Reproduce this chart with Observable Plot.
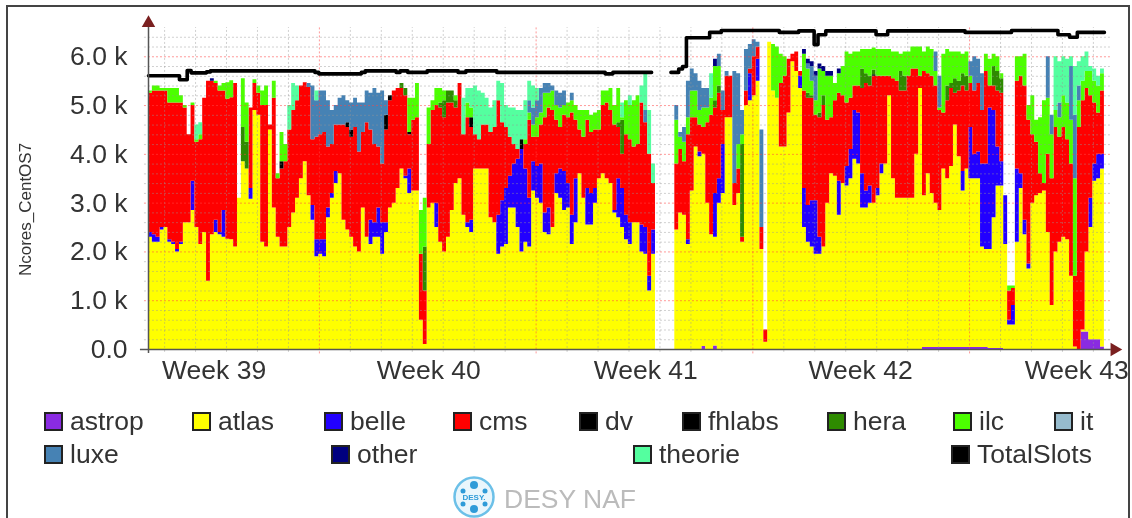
<!DOCTYPE html>
<html><head><meta charset="utf-8">
<script src="https://cdn.jsdelivr.net/npm/d3@7"></script>
<script src="https://cdn.jsdelivr.net/npm/@observablehq/plot@0.6"></script>
<style>
html,body{margin:0;padding:0;background:#fff;overflow:hidden}
#page{position:relative;width:1132px;height:518px;overflow:hidden;font-family:"Liberation Sans",sans-serif;color:#333;filter:blur(.7px)}
#frame{position:absolute;left:6px;top:5px;width:1120px;height:530px;border:2px solid #444;box-sizing:content-box}
#chart{position:absolute;left:0;top:0}
.sw{position:absolute;width:15px;height:15px;border:2px solid #222}
.lb{position:absolute;font-size:26.5px;line-height:30px;white-space:nowrap;color:#333}
</style></head><body>
<div id="page"><div id="frame"></div><div id="chart"></div></div>
<script>
// values in thousands of cores, one sample every 3 hours (10 per line)
const atlasTop = [
2.3,2.2,2.2,2.45,2.5,2.2,2.15,2.0,2.15,2.6,
2.6,2.85,2.5,2.15,2.4,1.4,2.35,2.4,2.35,2.3,
2.26,2.25,2.1,3.1,3.85,3.7,3.08,4.9,4.8,2.2,
2.1,4.5,2.9,2.3,2.1,2.1,2.5,2.8,3.1,3.5,
3.85,3.15,2.65,1.9,1.95,1.9,2.7,3.1,3.4,3.6,
2.65,2.45,2.3,2.1,2.0,2.9,2.3,2.15,2.3,2.3,
1.95,2.4,2.9,3.0,3.3,3.7,3.5,3.2,3.25,3.25,
.6,.1,2.9,3.0,2.5,2.2,2.0,2.3,2.85,3.4,
3.5,2.75,2.5,2.4,3.7,3.7,3.7,3.7,2.7,2.6,
1.95,2.1,2.15,2.9,2.9,2.5,2.0,2.2,2.1,3.25,
3.1,3.0,2.4,2.35,2.5,3.2,3.1,2.85,2.9,2.15,
2.6,3.6,3.1,2.55,2.55,3.0,3.5,3.6,3.5,3.4,
2.8,2.7,2.5,2.25,2.15,2.6,2.6,2.0,1.95,1.2,
1.95,0,0,0,0,0,2.45,2.8,2.75,2.15,
3.25,4.15,3.95,4.0,3.0,2.35,2.3,3.0,3.2,4.75,
4.75,2.95,3.2,2.2,5.0,5.1,5.2,5.5,2.05,.15,
6.3,5.3,5.15,4.15,4.15,4.85,5.9,5.7,5.35,2.5,
2.2,2.1,1.95,1.95,2.1,3.0,3.6,3.55,2.75,3.4,
3.35,3.5,3.9,3.8,2.9,2.9,3.0,3.0,3.15,3.6,
3.8,5.2,3.5,3.1,3.1,3.1,3.1,3.1,4.0,5.35,
3.15,3.6,3.2,3.0,2.85,3.7,3.5,3.75,4.6,3.95,
3.25,3.7,3.5,3.5,3.5,2.1,2.05,2.05,2.7,3.35,
3.35,2.15,.5,.5,2.2,3.3,2.35,1.65,3.0,3.15,
3.2,3.25,2.4,.9,2.0,2.2,2.3,2.25,1.5,.05,
0,.4,2.0,2.5,3.45,3.5,3.7,3.25];
const belle = [
.1,.15,.1,.05,0,.05,.05,.05,.05,0,
0,.6,0,0,0,0,0,.25,.05,.55,
0,0,0,0,0,0,.22,0,0,0,
0,0,0,0,0,0,0,0,0,0,
0,0,.3,.35,.3,.35,.2,.1,.25,0,
0,0,0,0,0,0,0,.5,.3,.6,
.65,.2,0,0,0,0,.05,.5,0,0,
0,0,0,0,.5,0,0,0,0,0,
0,0,.1,.25,0,0,0,0,0,0,
.8,.95,1.15,.65,.9,1.4,2.1,1.5,1.0,.6,
.65,.8,.4,.55,0,.4,.6,.8,.5,.6,
.9,0,0,.75,.65,.3,0,0,0,0,
.05,.8,.8,.5,.45,0,0,.55,.55,.3,
.5,0,0,0,0,0,0,0,0,.1,
0,0,.1,0,0,0,.9,.5,1.0,0,
0,0,0,0,0,.55,0,.45,0,0,
0,0,0,0,0,0,0,0,.25,.8,
.75,.95,1.1,.35,0,0,0,0,.7,0,
.4,.6,1.0,1.05,.7,.35,.35,0,.15,.2,
0,0,0,0,0,0,0,0,0,0,
0,0,0,0,0,0,0,0,0,0,
.4,0,1.05,.5,.55,1.7,1.75,2.9,2.2,.8,
.5,1.0,.1,.4,1.5,.3,.3,.1,0,0,
0,0,0,0,0,0,0,0,0,0,
0,0,0,.6,.35,.5,.3,.8];
const cmsTop = [
5.25,5.3,5.3,5.3,5.3,5.05,5.05,5.05,5.05,4.95,
4.4,5.0,4.25,4.3,5.15,5.5,5.5,5.45,5.3,5.3,
5.13,5.16,5.45,3.1,3.85,3.7,4.95,5.45,5.25,5.0,
5.0,4.6,5.15,3.5,3.7,3.85,4.5,4.9,5.1,5.4,
5.47,5.37,4.3,4.35,4.4,4.45,4.15,4.2,4.6,4.6,
4.6,4.55,4.35,4.55,4.05,4.45,4.65,4.5,4.2,4.15,
3.8,4.5,5.1,5.3,5.35,5.35,5.2,4.4,4.7,4.75,
1.95,1.2,4.2,4.9,5.0,4.95,4.75,5.05,5.05,4.95,
5.45,4.4,4.75,4.55,4.4,4.3,4.6,4.6,4.45,4.55,
5.1,4.65,4.55,4.35,4.2,4.1,4.05,4.2,4.7,4.35,
4.35,4.6,4.75,4.95,4.9,4.7,4.55,4.8,4.75,4.85,
4.7,4.5,4.35,4.7,4.45,4.5,4.5,5.0,5.05,4.9,
4.6,4.55,4.0,4.4,4.3,4.15,4.2,5.05,4.65,4.0,
3.4,0,0,0,0,0,3.8,4.1,3.85,4.4,
4.75,4.75,4.6,4.55,4.65,4.8,4.95,5.25,4.9,5.6,
5.6,3.4,3.7,2.3,5.3,5.75,6.0,6.2,2.5,.4,
6.3,5.3,5.15,5.45,5.6,5.95,6.05,6.1,5.7,5.3,
5.15,5.15,4.8,4.75,5.0,4.7,4.75,5.1,5.25,5.2,
5.05,5.15,5.4,5.4,5.35,5.45,5.4,5.6,5.6,5.6,
5.6,5.6,5.55,5.5,5.3,5.3,5.6,5.75,5.75,5.6,
5.7,5.65,5.6,5.4,4.9,4.85,5.1,5.35,5.25,5.3,
5.4,5.3,5.45,5.3,5.45,4.9,5.7,5.4,5.4,5.3,
5.25,3.15,1.2,1.25,5.5,5.6,5.4,4.7,4.4,4.25,
3.6,3.4,4.0,3.5,4.55,4.35,4.55,4.3,3.8,1.5,
4.55,5.1,5.35,5.2,5.05,4.85,5.3,5.35];
const hera = [
0,0,0,0,0,0,0,0,0,0,
0,0,0,0,0,0,0,0,0,0,
0,0,0,0,.7,.55,0,0,0,0,
0,0,0,0,0,0,0,0,0,0,
0,0,0,0,0,0,0,0,0,0,
0,0,0,0,0,0,0,0,0,0,
0,0,0,0,0,.1,.15,0,0,0,
0,.9,0,0,0,.1,.35,.25,.25,.15,
0,0,0,0,0,0,0,0,0,0,
0,0,0,0,0,0,0,0,0,0,
0,0,0,0,0,0,0,0,0,0,
0,0,0,0,0,0,0,0,0,0,
0,.1,.7,0,0,0,0,0,0,0,
0,0,0,0,0,0,0,0,0,0,
0,0,0,0,0,0,.15,.15,0,0,
0,0,0,1.9,0,0,0,0,0,0,
0,0,0,0,0,0,0,0,0,0,
.1,.05,0,.1,.2,0,0,0,0,0,
0,0,0,0,.4,.2,.2,.1,0,0,
0,0,0,0,.4,.3,0,0,0,0,
0,0,0,0,0,0,.3,.1,.3,.2,
.25,.3,0,0,0,0,0,0,.4,.4,
.3,0,0,0,0,0,0,0,0,0,
0,0,0,0,0,0,0,0,0,0,
0,0,0,0,0,0,0,0];
const dv = [
0,0,0,0,0,0,0,0,0,0,
0,0,0,0,0,0,0,0,0,0,
0,0,0,0,0,0,0,0,0,0,
0,0,0,0,.15,0,0,0,0,0,
0,0,0,0,0,0,0,0,0,0,
0,.1,.15,0,0,0,0,0,0,0,
0,.3,.1,0,0,0,0,.05,0,0,
0,0,0,0,0,0,0,0,0,0,
0,0,0,.2,0,0,0,0,0,0,
0,0,0,0,0,0,.2,0,0,0,
0,0,0,0,0,0,0,0,0,0,
0,0,0,0,0,0,0,0,0,0,
0,0,0,0,0,0,0,0,0,0,
0,0,0,0,0,0,0,0,0,0,
0,0,0,0,0,0,0,0,0,0,
0,0,0,0,0,0,0,0,0,0,
0,0,0,0,0,0,0,0,0,0,
0,0,0,0,0,0,0,0,0,0,
0,0,0,0,0,0,0,.03,0,0,
0,0,0,0,0,0,0,0,0,0,
0,0,0,0,0,0,0,0,0,0,
0,0,0,0,0,0,0,0,0,0,
0,0,0,0,0,0,0,0,0,0,
0,0,0,0,0,0,0,0,0,0,
0,0,0,0,0,0,0,0];
const ilc = [
.05,.1,.1,.05,.05,.3,.3,.3,.15,.05,
0,.05,.05,.1,0,0,0,.05,.1,.15,
.34,.35,0,0,1.0,.8,0,.08,.15,.3,
.4,0,.35,.1,.6,.35,0,0,0,0,
0,0,0,0,0,0,0,0,0,0,
0,0,0,0,0,0,0,0,0,0,
0,0,0,0,0,0,0,.7,.45,.7,
.9,1.0,.75,.2,.35,.3,.2,0,0,.1,
0,0,.3,.2,0,0,0,0,0,0,
0,0,0,0,0,0,0,.1,.15,.25,
.4,.25,.5,.3,.4,.3,.4,.2,.3,.25,
.3,.4,.55,.2,.35,.35,.4,.3,.25,.45,
.4,.7,.05,.7,.7,.95,1.0,0,0,0,
0,0,0,0,0,0,.9,.25,.4,.35,
.55,.55,.3,.4,.3,.35,.7,.4,0,0,
0,0,.5,.2,0,0,0,0,0,0,
0,.95,1.05,.6,.4,0,0,0,0,.75,
.5,.3,.3,.9,.5,.9,.85,.35,.4,.6,
1.05,.9,.7,.7,.4,.5,.55,.45,.55,.55,
.55,.55,.55,.6,.35,.5,.5,.45,.45,.6,
.4,.55,.55,.3,.05,1.2,.75,.65,.55,.6,
.4,.5,.15,0,0,0,.35,.55,.25,.3,
.1,0,.1,.05,.5,.4,.65,.3,.8,.45,
1.15,1.7,1.15,.9,.35,.4,.65,.75,.9,2.0,
.55,.4,.35,.5,.45,.55,.35,.7];
const luxe = [
0,0,0,0,0,0,0,0,0,0,
0,0,0,0,0,0,0,0,0,0,
0,0,0,0,0,0,0,0,0,0,
0,0,0,0,0,0,0,0,0,0,
0,.08,1.1,.75,.9,.85,.95,.7,.4,.55,
.6,.45,.55,.6,1.0,.6,.65,.75,1.15,1.1,
1.5,.3,0,0,0,0,0,0,0,0,
0,0,0,0,0,0,0,0,0,0,
0,0,0,0,0,0,0,0,0,0,
0,0,0,0,0,0,0,0,.25,.35,
.35,.5,.2,.2,.1,.3,.3,.3,0,.15,
0,0,0,0,0,0,0,0,0,0,
0,0,0,0,0,0,0,0,.25,0,
0,0,0,0,0,0,.3,.1,.3,.75,
.45,.35,.6,.4,.4,0,0,.25,.4,.1,
0,2.3,1.45,.5,.85,.5,.35,.1,2.0,0,
0,0,0,0,0,0,0,0,0,0,
.1,.3,.5,0,0,0,0,0,0,0,
0,0,0,0,0,0,0,0,0,0,
0,0,0,0,0,0,0,0,0,0,
0,0,0,.4,.65,0,0,0,0,0,
0,0,.3,.7,.5,.75,0,0,0,0,
0,0,0,0,0,0,0,0,0,0,
0,0,.85,.4,0,.3,0,0,1.1,1.3,
.3,0,0,0,0,0,0,0];
const other = [
0,0,0,0,0,0,0,0,0,0,
0,0,0,0,0,0,.05,0,0,0,
0,0,0,0,0,0,0,0,0,0,
0,0,0,0,0,0,0,0,0,0,
0,0,0,0,0,0,0,0,0,0,
0,0,0,0,0,0,0,0,0,0,
0,0,0,0,0,0,0,0,0,0,
0,0,0,0,0,0,0,0,0,0,
0,0,0,0,0,0,0,0,0,0,
0,0,0,0,0,0,0,0,0,0,
0,0,0,0,0,0,0,0,0,0,
0,0,0,0,0,0,0,0,0,0,
0,0,0,0,0,0,0,0,0,0,
0,0,0,0,0,0,0,0,0,0,
0,0,0,0,0,0,.15,0,0,0,
0,0,0,0,0,0,0,0,0,0,
0,0,0,0,0,0,0,0,0,.1,
.1,.1,.1,.1,.1,.1,.1,0,.1,0,
0,0,0,0,0,0,0,0,0,0,
0,0,0,0,0,0,0,0,0,0,
0,0,0,0,0,0,0,0,0,0,
0,0,0,0,0,0,0,0,0,0,
0,0,0,0,0,0,0,0,0,0,
0,0,0,0,0,0,0,0,0,0,
0,0,0,0,0,0,0,0];
const theorie = [
0,0,0,0,0,0,0,0,0,0,
0,0,.3,.25,0,0,0,0,0,0,
0,0,0,0,0,0,0,0,0,0,
0,0,0,0,0,0,.5,.55,.3,0,
0,0,0,.2,0,0,0,0,0,0,
0,0,0,0,0,0,0,0,0,0,
0,0,0,0,0,0,0,0,0,0,
0,0,0,0,0,0,0,0,0,0,
0,.75,.3,.4,1.0,1.0,.65,.55,.5,.55,
.4,.8,.45,.6,.75,.8,.6,.8,.4,.45,
.25,0,0,0,0,0,0,0,0,0,
0,0,0,0,0,0,0,0,0,0,
0,0,.3,0,.2,0,0,.35,.75,.9,
.4,0,0,0,0,0,0,0,0,0,
0,0,0,0,0,.5,0,0,0,0,
0,0,0,0,0,0,0,0,0,0,
0,0,0,0,0,0,0,0,0,0,
0,0,0,0,0,0,0,0,0,0,
0,0,0,0,0,0,0,0,0,0,
0,0,0,0,0,0,0,0,0,0,
0,0,0,0,0,0,0,0,0,0,
0,0,0,0,0,0,0,0,0,0,
0,0,0,0,0,0,0,0,0,0,
0,0,0,0,1.1,.85,.8,.9,.2,1.0,
.5,.5,.4,.1,.25,.2,.1,0];
const astrop = [
0,0,0,0,0,0,0,0,0,0,
0,0,0,0,0,0,0,0,0,0,
0,0,0,0,0,0,0,0,0,0,
0,0,0,0,0,0,0,0,0,0,
0,0,0,0,0,0,0,0,0,0,
0,0,0,0,0,0,0,0,0,0,
0,0,0,0,0,0,0,0,0,0,
0,0,0,0,0,0,0,0,0,0,
0,0,0,0,0,0,0,0,0,0,
0,0,0,0,0,0,0,0,0,0,
0,0,0,0,0,0,0,0,0,0,
0,0,0,0,0,0,0,0,0,0,
0,0,0,0,0,0,0,0,0,0,
0,0,0,0,0,0,0,0,0,0,
0,0,0,.06,0,0,.07,0,0,0,
0,0,0,0,0,0,0,0,0,0,
0,0,0,0,0,0,0,0,0,0,
0,0,0,0,0,0,0,0,0,0,
0,0,0,0,0,0,0,0,0,0,
0,0,0,0,0,0,0,0,0,0,
.04,.04,.04,.04,.04,.04,.04,.04,.04,.04,
.04,.04,.04,.04,.04,.04,.04,.02,.02,.02,
.02,0,0,0,0,0,0,0,0,0,
0,0,0,0,0,0,0,0,0,0,
0,.36,.36,.2,.2,.2,.05,0];
const totalSlots = [
5.61,5.61,5.61,5.61,5.61,5.61,5.61,5.61,5.53,5.53,
5.72,5.67,5.67,5.67,5.67,5.69,5.71,5.71,5.71,5.71,
5.71,5.71,5.71,5.71,5.71,5.71,5.71,5.71,5.71,5.71,
5.71,5.71,5.71,5.71,5.71,5.71,5.71,5.71,5.71,5.71,
5.71,5.71,5.71,5.68,5.65,5.65,5.65,5.65,5.65,5.65,
5.65,5.65,5.65,5.65,5.65,5.68,5.71,5.71,5.71,5.71,
5.71,5.71,5.71,5.71,5.68,5.71,5.71,5.68,5.68,5.68,
5.68,5.68,5.71,5.71,5.71,5.71,5.71,5.71,5.71,5.71,
5.68,5.68,5.71,5.71,5.71,5.71,5.71,5.71,5.71,5.71,
5.68,5.68,5.68,5.68,5.68,5.68,5.68,5.68,5.68,5.68,
5.68,5.68,5.68,5.68,5.68,5.68,5.68,5.68,5.68,5.68,
5.68,5.68,5.68,5.68,5.68,5.68,5.68,5.68,5.65,5.65,
5.68,5.68,5.68,5.68,5.68,5.68,5.68,5.68,5.68,5.68,
5.68,null,null,null,null,5.68,5.68,5.75,5.8,6.39,
6.39,6.39,6.39,6.39,6.39,6.5,6.5,6.5,6.54,6.54,
6.54,6.54,6.54,6.54,6.54,6.54,6.54,6.54,6.54,6.54,
6.54,6.54,6.54,6.5,6.5,6.5,6.5,6.5,6.53,6.53,
6.53,6.53,6.25,6.45,6.45,6.53,6.53,6.53,6.53,6.53,
6.53,6.53,6.53,6.53,6.53,6.53,6.53,6.53,6.45,6.45,
6.45,6.53,6.53,6.53,6.53,6.53,6.53,6.53,6.53,6.53,
6.53,6.53,6.53,6.53,6.53,6.53,6.53,6.53,6.53,6.53,
6.53,6.5,6.5,6.5,6.5,6.5,6.5,6.5,6.5,6.5,
6.5,6.5,6.5,6.54,6.54,6.54,6.54,6.54,6.54,6.54,
6.54,6.54,6.54,6.54,6.54,6.45,6.45,6.45,6.4,6.4,
6.5,6.5,6.5,6.5,6.5,6.5,6.5,6.5];

const weekLabels = ["Week 39","Week 40","Week 41","Week 42","Week 43"];
const weekLabelDays = [2.12,9.05,16.06,23.0,29.98];
const weekStartDays = [5.52,12.52,19.52,26.52];
const yMajor = [0,1,2,3,4,5,6];
const stepDays = 0.125;

const palette = {astrop:"#8a2be2",atlas:"#ffff00",belle:"#2200ff",cms:"#ff0000",dv:"#000000",fhlabs:"#000000",hera:"#2e8b00",ilc:"#4cff00",it:"#96bbcd",luxe:"#4682b4",other:"#000080",theorie:"#54ff9f",TotalSlots:"#000000"};
const legendRows = [
 ["astrop",44],["atlas",192],["belle",324],["cms",453],["dv",579],["fhlabs",682],["hera",827],["ilc",953],["it",1054]
];
const legendRows2 = [["luxe",44],["other",331],["theorie",633],["TotalSlots",951]];

// turn cumulative read-offs into each group's own value
const atlas = atlasTop.map((v,i)=>Math.max(0,v-astrop[i]));
const cms = cmsTop.map((v,i)=>Math.max(0,v-atlasTop[i]-belle[i]));
const seriesOrder = [["astrop",astrop],["atlas",atlas],["belle",belle],["cms",cms],["dv",dv],["hera",hera],["ilc",ilc],["luxe",luxe],["other",other],["theorie",theorie]];
const rows = seriesOrder.flatMap(([name,vals])=>vals.map((v,i)=>({day:i*stepDays,value:v,name})));
const slots = totalSlots.map((v,i)=>({day:i*stepDays,value:v}));

const yMinor = d3.range(0,6.5,0.2).filter(v=>Math.abs(v-Math.round(v))>1e-6);
const dayMinor = d3.range(0,32).map(d=>d+0.52).filter(d=>!weekStartDays.includes(d)&&d<31);
const endDay = 31.07;
const gridGrey = "rgba(150,150,150,.45)", gridRed = "rgba(255,70,70,.55)";
const axisCol = "#555";

const plot = Plot.plot({
  width:1132,height:395,marginLeft:148,marginRight:4,marginTop:27,marginBottom:46,
  style:{fontFamily:'"Liberation Sans",sans-serif',fontSize:"26.5px",color:"#333",background:"transparent",overflow:"visible"},
  x:{domain:[0,(1128-148)/30.96],axis:null},
  y:{domain:[0,6.6],axis:null},
  color:{domain:Object.keys(palette),range:Object.values(palette)},
  marks:[
    Plot.areaY(rows,{x:"day",y:"value",z:"name",fill:d=>palette[d.name],curve:"step-after",order:null,reverse:false}),
    Plot.ruleY(yMinor,{x1:-0.13,x2:endDay,stroke:gridGrey,strokeDasharray:"2 2"}),
    Plot.ruleX(dayMinor,{y1:-0.06,y2:6.6,stroke:gridGrey,strokeDasharray:"2 2"}),
    Plot.ruleY(yMajor.slice(1),{x1:-0.13,x2:endDay,stroke:gridRed,strokeDasharray:"2 2"}),
    Plot.ruleX(weekStartDays,{y1:-0.09,y2:6.6,stroke:gridRed,strokeDasharray:"2 2"}),
    Plot.line(slots.filter(d=>d.value!=null&&d.day<16.5),{x:"day",y:"value",stroke:"#000",strokeWidth:3.6,curve:"step-after"}),
    Plot.line(slots.filter(d=>d.value!=null&&d.day>=16.5),{x:"day",y:"value",stroke:"#000",strokeWidth:3.6,curve:"step-after"}),
    Plot.ruleX([0],{y1:-0.08,y2:6.65,stroke:axisCol,strokeWidth:1.5}),
    Plot.ruleY([0],{x1:-0.26,x2:31.1,stroke:axisCol,strokeWidth:1.5}),
    Plot.dot([0],{x:0,y:()=>6.69,symbol:"triangle",r:5,fill:"#7a2020",stroke:"none"}),
    Plot.dot([0],{x:()=>31.2,y:0,symbol:"triangle",r:5,fill:"#7a2020",stroke:"none",rotate:90}),
    Plot.axisY({ticks:yMajor,tickSize:0,tickPadding:21,label:null,tickFormat:d=>d===0?"0.0":d.toFixed(1)+" k",color:"#333"}),
    Plot.axisX({ticks:weekLabelDays,tickSize:0,tickPadding:11,label:null,tickFormat:(d,i)=>weekLabels[i],color:"#333"}),
    Plot.text(["Ncores_CentOS7"],{y:()=>2.87,frameAnchor:"left",dx:-123,rotate:-90,fontSize:17,fill:"#333",textAnchor:"middle"})
  ]
});
document.getElementById("chart").appendChild(plot);

const page = document.getElementById("page");
function addLegend(list,top){
  for(const [name,x] of list){
    const s=document.createElement("div");s.className="sw";
    s.style.left=x+"px";s.style.top=top+"px";s.style.background=palette[name];page.appendChild(s);
    const t=document.createElement("div");t.className="lb";t.textContent=name;
    t.style.left=(x+26)+"px";t.style.top=(top-6)+"px";page.appendChild(t);
  }
}
addLegend(legendRows,412);
addLegend(legendRows2,445);

// DESY logo and footer
const logo=d3.create("svg").attr("width",44).attr("height",44).attr("viewBox","-22 -22 44 44")
  .style("position","absolute").style("left","452px").style("top","475px");
logo.append("circle").attr("r",19.5).attr("fill","#eaf6fc").attr("stroke","#6cc0e8").attr("stroke-width",2.5);
for(const [x,y,r] of [[0,-12,4],[0,12,4],[-11,-6,2.5],[11,-6,2.5],[-11,7,2.5],[11,7,2.5]])
  logo.append("circle").attr("cx",x).attr("cy",y).attr("r",r).attr("fill","#2f9bd8");
logo.append("text").attr("text-anchor","middle").attr("y",3).attr("font-size",8).attr("font-weight","bold").attr("fill","#2f9bd8").attr("font-family","Liberation Sans").text("DESY.");
page.appendChild(logo.node());
const foot=document.createElement("div");foot.className="lb";foot.textContent="DESY NAF";
foot.style.left="504px";foot.style.top="484px";foot.style.color="#bbb";page.appendChild(foot);
</script></body></html>
